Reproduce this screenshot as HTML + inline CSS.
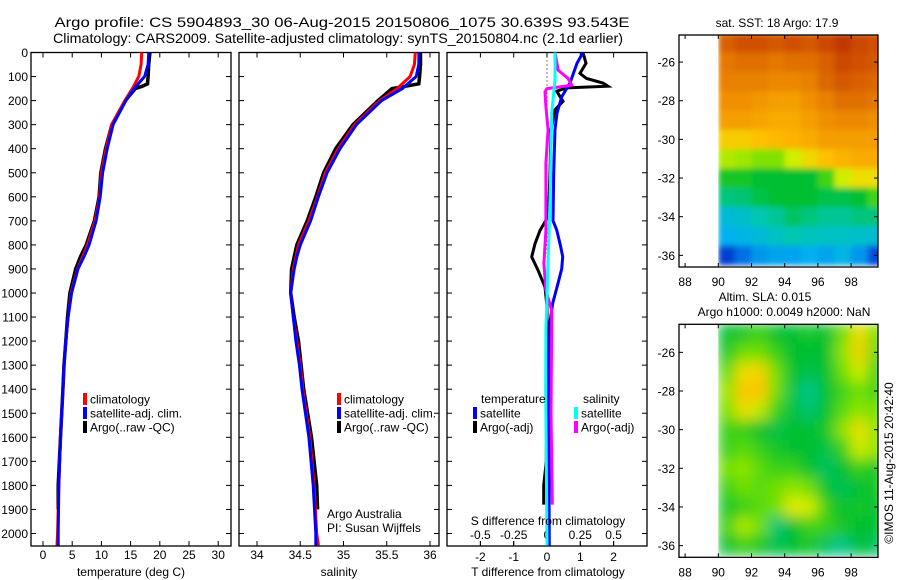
<!DOCTYPE html>
<html><head><meta charset="utf-8">
<style>
html,body{margin:0;padding:0;background:#fff;}
svg{display:block;font-family:"Liberation Sans",sans-serif;}
</style></head>
<body>
<svg id="fig" width="900" height="580" viewBox="0 0 900 580">
<defs>
<filter id="blurS" x="0" y="0" width="1" height="1"><feGaussianBlur stdDeviation="3" edgeMode="duplicate"/></filter>
<filter id="blurL" x="0" y="0" width="1" height="1"><feGaussianBlur stdDeviation="7" edgeMode="duplicate"/></filter>
<clipPath id="clip1"><rect x="718.3" y="35" width="159.7" height="232"/></clipPath>
<clipPath id="clip2"><rect x="718.3" y="324.3" width="159.7" height="233"/></clipPath>
</defs>
<rect x="0" y="0" width="900" height="580" fill="#fff"/>
<text x="342" y="27" font-size="14" text-anchor="middle" textLength="575" lengthAdjust="spacingAndGlyphs">Argo profile: CS 5904893_30 06-Aug-2015 20150806_1075 30.639S 93.543E</text>
<text x="338" y="43" font-size="14" text-anchor="middle" textLength="570" lengthAdjust="spacingAndGlyphs">Climatology: CARS2009. Satellite-adjusted climatology: synTS_20150804.nc (2.1d earlier)</text>
<g id="plots"></g>
</svg>
<script>
// ---------- data ----------
const depthTicks = [0,100,200,300,400,500,600,700,800,900,1000,1100,1200,1300,1400,1500,1600,1700,1800,1900,2000];
const tempTicks = [0,5,10,15,20,25,30];
const salTicks = [34,34.5,35,35.5,36];
const salTickLabels = ["34","34.5","35","35.5","36"];
const tdiffTicks = [-2,-1,0,1,2];
const sdiffTicks = [-0.5,-0.25,0,0.25,0.5];
const sdiffTickLabels = ["-0.5","-0.25","0","0.25","0.5"];

const climDepth = [0,50,100,150,200,300,400,500,600,700,800,850,900,1000,1100,1200,1300,1400,1600,1800,2000,2050];
const tempClim = [16.9,16.8,16.4,15.3,14.0,11.8,10.8,10.0,9.7,8.9,7.6,6.8,5.9,4.8,4.3,3.9,3.6,3.4,3.0,2.7,2.5,2.4];
const tempSat = [18.1,18.0,17.4,15.6,14.2,12.0,11.0,10.2,9.8,9.1,7.9,7.0,6.0,4.9,4.3,3.9,3.6,3.4,3.0,2.7,2.6,2.6];
const argoDepth = [0,50,100,130,140,150,200,300,400,500,600,700,800,850,900,1000,1100,1200,1300,1400,1600,1800,1900];
const tempArgo = [18.3,18.1,18.0,17.9,17.0,15.8,14.1,11.8,10.7,9.9,9.6,8.8,7.4,6.4,5.6,4.6,4.2,3.9,3.6,3.4,3.0,2.6,2.6];

const salClim = [35.83,35.82,35.77,35.62,35.42,35.13,34.94,34.79,34.70,34.60,34.48,34.45,34.42,34.39,34.42,34.46,34.50,34.53,34.61,34.66,34.69,34.71];
const salSat = [35.87,35.87,35.84,35.68,35.44,35.15,34.96,34.81,34.71,34.62,34.50,34.46,34.43,34.39,34.42,34.45,34.49,34.52,34.60,34.65,34.68,34.68];
const salArgo = [35.89,35.89,35.88,35.87,35.72,35.56,35.40,35.11,34.91,34.77,34.68,34.58,34.46,34.43,34.40,34.39,34.43,34.48,34.51,34.54,34.63,34.69,34.70];

const tdSatDepth = [0,45,127,184,252,320,500,700,738,800,849,900,960,1043,1120,1400,1800,2050];
const tdSat = [1.08,0.90,0.69,0.44,0.30,0.24,0.20,0.18,0.29,0.40,0.47,0.44,0.33,0.17,0.09,0.06,0.06,0.07];
const tdArgoDepth = [0,45,87,108,127,140,147,161,203,238,320,500,650,690,740,795,850,905,975,1058,1300,1700,1800,1880];
const tdArgo = [1.08,1.17,0.99,1.19,1.68,1.83,0.59,0.29,0.48,0.24,0.12,0.09,0.05,0.0,-0.21,-0.36,-0.46,-0.27,-0.06,0.0,0.0,-0.02,-0.1,-0.1];
const sdSatDepth = [0,115,252,600,1015,1150,1400,2050];
const sdSat = [0.06,0.06,0.035,0.023,0.0,-0.008,-0.01,0.0];
const sdArgoDepth = [0,73,108,136,150,163,225,320,460,740,876,990,1072,1140,1500,1880];
const sdArgo = [0.06,0.083,0.158,0.186,0.0,-0.015,-0.008,0.008,-0.008,-0.008,-0.023,-0.008,0.035,0.035,0.03,0.04];

// maps: rows lat -25..-36, cols lon 90..99 (normalised colour value)
const sstGrid = [
[.88,.90,.90,.89,.90,.89,.91,.93,.91,.90],
[.85,.86,.86,.85,.86,.86,.88,.91,.90,.89],
[.84,.84,.84,.83,.83,.84,.87,.89,.88,.87],
[.82,.82,.81,.80,.80,.82,.84,.86,.86,.85],
[.80,.80,.79,.78,.78,.80,.82,.83,.83,.82],
[.73,.73,.75,.76,.77,.78,.80,.80,.80,.80],
[.64,.63,.61,.61,.66,.71,.75,.77,.78,.78],
[.52,.52,.50,.50,.50,.50,.56,.66,.70,.70],
[.44,.45,.48,.50,.50,.50,.48,.48,.50,.56],
[.34,.36,.40,.42,.46,.44,.42,.42,.44,.44],
[.30,.32,.34,.37,.40,.38,.37,.37,.36,.35],
[.12,.20,.26,.28,.28,.30,.28,.32,.26,.14]];
const slaGrid = [
[.50,.52,.55,.50,.50,.52,.50,.60,.70,.60],
[.52,.60,.60,.55,.50,.50,.50,.62,.72,.58],
[.58,.70,.72,.60,.50,.48,.50,.60,.66,.55],
[.62,.74,.74,.60,.48,.43,.50,.56,.60,.56],
[.60,.70,.65,.55,.48,.45,.50,.58,.62,.60],
[.55,.55,.50,.48,.50,.50,.52,.62,.70,.62],
[.55,.58,.55,.52,.50,.50,.48,.55,.66,.62],
[.60,.62,.58,.55,.55,.50,.46,.50,.55,.52],
[.55,.60,.58,.60,.62,.60,.50,.47,.50,.52],
[.52,.55,.58,.60,.68,.66,.55,.50,.52,.50],
[.55,.64,.60,.44,.50,.56,.55,.52,.50,.50],
[.50,.55,.52,.48,.50,.52,.46,.43,.50,.46]];
const lonTicks = [88,90,92,94,96,98];
const latTicks = [-26,-28,-30,-32,-34,-36];

// ---------- helpers ----------
const NS = "http://www.w3.org/2000/svg";
const root = document.getElementById('plots');
function mk(tag, attrs, parent){const e=document.createElementNS(NS,tag);for(const k in attrs)e.setAttribute(k,attrs[k]);(parent||root).appendChild(e);return e;}
function txt(x,y,s,size,anchor,parent){const t=mk('text',{x:x,y:y,'font-size':size,'text-anchor':anchor||'middle'},parent);t.textContent=s;return t;}

const PT=52.5, PB=546;
function yD(d){return PT+d*0.2405;}

function panel(name, L, R){
  const g=mk('g',{});
  
  
  const r=mk('rect',{x:L,y:PT,width:R-L,height:PB-PT,fill:'none',stroke:'#000','stroke-width':1.3},g);
  
  
  depthTicks.forEach(d=>{const y=yD(d);
    mk('line',{x1:L,y1:y,x2:L+5,y2:y,stroke:'#000'},g);
    mk('line',{x1:R,y1:y,x2:R-5,y2:y,stroke:'#000'},g);});
  return g;
}
function xticks(g,L,R,ticks,labels,xf,ly){
  ticks.forEach((v,i)=>{const x=xf(v);
    mk('line',{x1:x,y1:PT,x2:x,y2:PT+5,stroke:'#000'},g);
    mk('line',{x1:x,y1:PB,x2:x,y2:PB-5,stroke:'#000'},g);
    const t=txt(x,ly,labels[i],12,'middle',g);
    
    });
}
function line(g,xs,ds,xf,color,w,name){
  const pts=xs.map((v,i)=>xf(v).toFixed(1)+','+yD(ds[i]).toFixed(1)).join(' ');
  const p=mk('polyline',{points:pts,fill:'none',stroke:color,'stroke-width':w,'stroke-linejoin':'miter'},g);
  
  
}
function legend(g,x,y,color,label){
  mk('rect',{x:x-2,y:y-6,width:4,height:12,fill:color},g);
  const t=txt(x+5,y+4.5,label,12,'start',g);
  
  
}

depthTicks.forEach(d=>{
  const t=txt(28,yD(d)+4.5,String(d),12,'end');
  
  
});

// ---------- panel 1: temperature ----------
const xT=v=>43+v*5.84;
const g1=panel('temperature-panel',31,231);
xticks(g1,31,231,tempTicks,tempTicks.map(String),xT,559);
line(g1,tempArgo,argoDepth,xT,'#000',3.5,'temp-argo-line');
line(g1,tempClim,climDepth,xT,'#f00',3,'temp-clim-line');
line(g1,tempSat,climDepth,xT,'#00f',3,'temp-sat-line');
let t1=txt(131,576,'temperature (deg C)',12,'middle',g1);

legend(g1,85,399,'#f00','climatology');legend(g1,85,413,'#00f','satellite-adj. clim.');legend(g1,85,427,'#000','Argo(..raw -QC)');

// ---------- panel 2: salinity ----------
const xS=v=>257+(v-34)*86.5;
const g2=panel('salinity-panel',239,439);
xticks(g2,239,439,salTicks,salTickLabels,xS,559);
line(g2,salArgo,argoDepth,xS,'#000',3.5,'sal-argo-line');
line(g2,salClim,climDepth,xS,'#f00',3,'sal-clim-line');
line(g2,salSat,climDepth,xS,'#00f',3,'sal-sat-line');
let t2=txt(339,576,'salinity',12,'middle',g2);

legend(g2,339,399,'#f00','climatology');legend(g2,339,413,'#00f','satellite-adj. clim.');legend(g2,339,427,'#000','Argo(..raw -QC)');
txt(327,518,'Argo Australia',12,'start',g2);
txt(327,532,'PI: Susan Wijffels',12,'start',g2);

// ---------- panel 3: differences ----------
const xTD=v=>547+v*33.3;
const xSD=v=>547+v*133.2;
const g3=panel('difference-panel',447,647);
xticks(g3,447,647,tdiffTicks,tdiffTicks.map(String),xTD,561);
sdiffTicks.forEach((v,i)=>{const x=xSD(v);
  mk('line',{x1:x,y1:PB-5,x2:x,y2:PB,stroke:'#000'},g3);
  const t=txt(x,539,sdiffTickLabels[i],12,'middle',g3);
  });
mk('line',{x1:547,y1:PT,x2:547,y2:PB,stroke:'#000','stroke-dasharray':'1,3'},g3);
line(g3,tdArgo,tdArgoDepth,xTD,'#000',3,'tdiff-argo-line');
line(g3,tdSat,tdSatDepth,xTD,'#00f',3,'tdiff-sat-line');
line(g3,sdArgo,sdArgoDepth,xSD,'#f0f',3,'sdiff-argo-line');
line(g3,sdSat,sdSatDepth,xSD,'#0ff',3,'sdiff-sat-line');
let t3=txt(548,576,'T difference from climatology',12,'middle',g3);

let t4=txt(548,525,'S difference from climatology',12,'middle',g3);

txt(481,403,'temperature',12,'start',g3);
txt(583,403,'salinity',12,'start',g3);
legend(g3,475,413,'#00f','satellite');legend(g3,475,427,'#000','Argo(-adj)');
legend(g3,576,413,'#0ff','satellite');legend(g3,576,427,'#f0f','Argo(-adj)');

// ---------- maps ----------
const stops=[[0,[0,0,139]],[0.15,[0,80,224]],[0.3,[0,176,240]],[0.4,[0,200,176]],[0.5,[0,192,48]],[0.6,[112,224,0]],[0.67,[224,240,0]],[0.75,[255,192,0]],[0.82,[240,144,0]],[0.9,[208,80,0]],[1,[160,0,0]]];
function cmap(v){for(let i=1;i<stops.length;i++){if(v<=stops[i][0]){const a=stops[i-1],b=stops[i],f=(v-a[0])/(b[0]-a[0]);return 'rgb('+a[1].map((c,k)=>Math.round(c+(b[1][k]-c)*f)).join(',')+')';}}return 'rgb(160,0,0)';}

function map(name,top,bot,grid,latOfTop,filterId,clipId){
  const L=679,R=878;
  const xL=v=>718.3+(v-90)*16.6;
  const yL=v=>top+(latOfTop-v)*19.33;
  const g=mk('g',{});
  
  
  const cg=mk('g',{'clip-path':'url(#'+clipId+')'},g);
  const fg=mk('g',{filter:'url(#'+filterId+')'},cg);
  grid.forEach((row,ri)=>{row.forEach((v,ci)=>{
    const lat=-25-ri, lon=90+ci;
    const y0=yL(lat+0.5), y1=yL(lat-0.5);
    const x0=xL(lon), x1=xL(lon+1);
    const c=mk('rect',{x:x0,y:y0,width:x1-x0+0.5,height:y1-y0+0.5,fill:cmap(v)},fg);
    
    
  });});
  mk('rect',{x:L,y:top,width:R-L,height:bot-top,fill:'none',stroke:'#000','stroke-width':1.3},g);
  lonTicks.forEach(v=>{const x=xL(v);
    mk('line',{x1:x,y1:top,x2:x,y2:top+4,stroke:'#000'},g);
    mk('line',{x1:x,y1:bot,x2:x,y2:bot-4,stroke:'#000'},g);
    const t=txt(x,bot+19,String(v),12,'middle',g);
    });
  latTicks.forEach(v=>{const y=yL(v);
    mk('line',{x1:L,y1:y,x2:L+4,y2:y,stroke:'#000'},g);
    mk('line',{x1:R,y1:y,x2:R-4,y2:y,stroke:'#000'},g);
    const t=txt(675,y+4.5,String(v),12,'end',g);
    });
  return g;
}
const m1=map('sst-map',35,267,sstGrid,-24.6,'blurS','clip1');
let mt1=txt(777,27,'sat. SST: 18 Argo: 17.9',12,'middle',m1);

const m2=map('sla-map',324.3,557.3,slaGrid,-24.55,'blurL','clip2');
let mt2=txt(765,301,'Altim. SLA: 0.015',12,'middle',m2);

let mt3=txt(784,316,'Argo h1000: 0.0049 h2000: NaN',12,'middle',m2);

let stamp=mk('text',{x:0,y:0,'font-size':12,'text-anchor':'middle',transform:'translate(893,463) rotate(-90)'});
stamp.textContent='©IMOS 11-Aug-2015 20:42:40';


</script>
</body></html>
